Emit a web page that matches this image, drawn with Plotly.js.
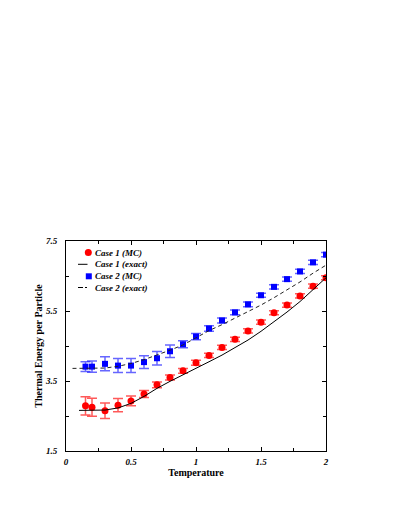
<!DOCTYPE html>
<html>
<head>
<meta charset="utf-8">
<script src="https://cdn.plot.ly/plotly-3.0.1.min.js"></script>
<style>
  body { margin: 0; background: #fff; }
  #chart { width: 393px; height: 508px; }
</style>
</head>
<body>
<div id="chart"></div>
<script>
// Monte Carlo points
const tempMC = [0.15, 0.2, 0.3, 0.4, 0.5, 0.6, 0.7, 0.8, 0.9, 1.0, 1.1, 1.2, 1.3, 1.4, 1.5, 1.6, 1.7, 1.8, 1.9, 2.0]
const case1MC = [2.79, 2.75, 2.65, 2.81, 2.93, 3.13, 3.39, 3.60, 3.79, 4.02, 4.23, 4.46, 4.69, 4.93, 5.18, 5.45, 5.67, 5.93, 6.21, 6.45]
const case1Err = [0.26, 0.26, 0.22, 0.19, 0.14, 0.1, 0.08, 0.07, 0.07, 0.07, 0.06, 0.06, 0.06, 0.06, 0.06, 0.06, 0.06, 0.06, 0.06, 0.06]
const case2MC = [3.91, 3.91, 3.99, 3.94, 3.94, 4.04, 4.15, 4.35, 4.55, 4.77, 5.00, 5.23, 5.46, 5.69, 5.95, 6.19, 6.41, 6.63, 6.89, 7.11]
const case2Err = [0.14, 0.16, 0.2, 0.2, 0.2, 0.18, 0.19, 0.18, 0.1, 0.09, 0.08, 0.07, 0.07, 0.07, 0.06, 0.06, 0.06, 0.06, 0.06, 0.06]

// exact curves
const tempExact1 = [0.1, 0.2, 0.3, 0.4, 0.5, 0.6, 0.7, 0.8, 0.9, 1.0, 1.1, 1.2, 1.3, 1.4, 1.5, 1.6, 1.7, 1.8, 1.9, 2.0]
const case1Exact = [2.66, 2.66, 2.67, 2.73, 2.86, 3.06, 3.29, 3.49, 3.67, 3.86, 4.05, 4.24, 4.45, 4.67, 4.92, 5.19, 5.47, 5.77, 6.1, 6.45]
const tempExact2 = [0.05, 0.1, 0.2, 0.3, 0.4, 0.5, 0.6, 0.7, 0.8, 0.9, 1.0, 1.1, 1.2, 1.3, 1.4, 1.5, 1.6, 1.7, 1.8, 1.9, 2.0]
const case2Exact = [3.86, 3.86, 3.86, 3.87, 3.92, 4.0, 4.11, 4.24, 4.38, 4.53, 4.73, 4.94, 5.11, 5.29, 5.48, 5.67, 5.88, 6.1, 6.33, 6.58, 6.81]

const seriesNames = ['Case 1 (MC)', 'Case 1 (exact)', 'Case 2 (MC)', 'Case 2 (exact)']

const serif = 'Liberation Serif, Times New Roman, serif'
const red = '#ff0000'
const blue = '#0000ff'
const exactDash = '4px,3px'

const traces = [
    {
        x: tempMC, y: case1MC,
        error_y: { type: 'data', array: case1Err, color: 'rgba(255,0,0,0.65)', thickness: 1.5, width: 5 },
        type: 'scatter', mode: 'markers',
        marker: { color: red, symbol: 'circle', size: 7 },
        name: seriesNames[0],
    },
    {
        x: tempExact1, y: case1Exact,
        type: 'scatter', mode: 'lines',
        line: { color: '#000', width: 1 },
        name: seriesNames[1],
    },
    {
        x: tempMC, y: case2MC,
        error_y: { type: 'data', array: case2Err, color: 'rgba(0,0,255,0.6)', thickness: 1.5, width: 5 },
        type: 'scatter', mode: 'markers',
        marker: { color: blue, symbol: 'square', size: 6 },
        name: seriesNames[2],
    },
    {
        x: tempExact2, y: case2Exact,
        type: 'scatter', mode: 'lines',
        line: { color: '#222', width: 1, dash: exactDash },
        name: seriesNames[3],
    },
]

// plot box in px, used to place the hand-made legend (plotly's own legend rows are too tall)
const M = { l: 66, r: 67, t: 241, b: 57 }
const plotW = 393 - M.l - M.r
const plotH = 508 - M.t - M.b
const px = x => (x - M.l) / plotW
const py = y => (508 - M.b - y) / plotH

const legendRowY = [252.5, 264.3, 276.3, 287.5]
const legendShapes = []
const legendNotes = []
legendRowY.forEach((y, i) => {
    if (i == 0) {
        legendShapes.push({ type: 'circle', xref: 'paper', yref: 'paper', x0: px(84.8), x1: px(91.8), y0: py(y + 3.5), y1: py(y - 3.5), fillcolor: red, line: { width: 0 } })
    } else if (i == 2) {
        legendShapes.push({ type: 'rect', xref: 'paper', yref: 'paper', x0: px(85.8), x1: px(91.8), y0: py(y + 3), y1: py(y - 3), fillcolor: blue, line: { width: 0 } })
    } else {
        legendShapes.push({ type: 'line', xref: 'paper', yref: 'paper', x0: px(78), x1: px(87.5), y0: py(y), y1: py(y), line: { color: '#000', width: 1, dash: i == 3 ? '5px,2px,2px,2px' : 'solid' } })
    }
    legendNotes.push({
        text: seriesNames[i], xref: 'paper', yref: 'paper',
        x: px(92.5), y: py(y), xanchor: 'left', yanchor: 'middle', showarrow: false,
        font: { family: serif, size: 9, color: '#000', weight: 'bold', style: 'italic' },
    })
})

const tickFont = { family: serif, size: 9, color: '#000', weight: 'bold', style: 'italic' }

const layout = {
    width: 393,
    height: 508,
    margin: M,
    paper_bgcolor: '#fff',
    plot_bgcolor: '#fff',
    showlegend: false,
    shapes: legendShapes,
    annotations: legendNotes,
    xaxis: {
        range: [0, 2],
        tick0: 0, dtick: 0.5,
        ticks: 'inside', ticklen: 4, tickcolor: '#000',
        minor: { dtick: 0.25, ticks: 'inside', ticklen: 3, tickcolor: '#000' },
        showline: true, linecolor: '#000', linewidth: 1, mirror: 'ticks',
        showgrid: false, zeroline: false,
        tickfont: tickFont,
        ticklabelstandoff: 2,
        title: { text: 'Temperature', font: { family: serif, size: 10, color: '#000', weight: 'bold' }, standoff: 3 },
    },
    yaxis: {
        range: [1.5, 7.5],
        tick0: 1.5, dtick: 2,
        ticks: 'inside', ticklen: 4, tickcolor: '#000',
        minor: { dtick: 1, tick0: 1.5, ticks: 'inside', ticklen: 3, tickcolor: '#000' },
        showline: true, linecolor: '#000', linewidth: 1, mirror: 'ticks',
        showgrid: false, zeroline: false,
        tickfont: tickFont,
        tickformat: '.1f',
        ticklabelstandoff: 6,
        title: { text: 'Thermal Energy per Particle', font: { family: serif, size: 10, color: '#000', weight: 'bold' }, standoff: 0 },
    },
}

Plotly.newPlot('chart', traces, layout, { displayModeBar: false, staticPlot: true })
</script>
</body>
</html>
